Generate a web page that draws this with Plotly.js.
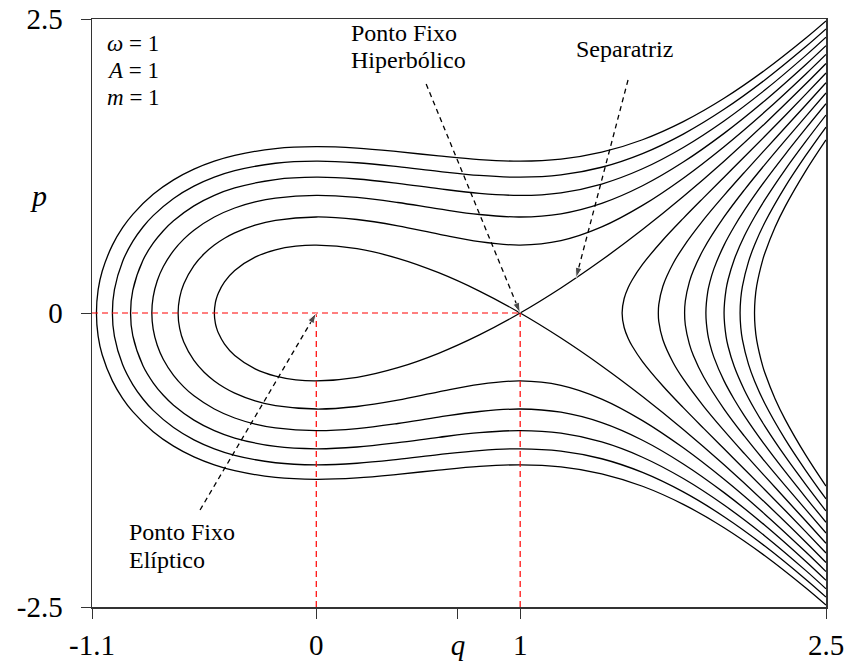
<!DOCTYPE html>
<html>
<head>
<meta charset="utf-8">
<script src="https://cdn.plot.ly/plotly-3.0.1.min.js"></script>
<style>html,body{margin:0;padding:0;background:#fff;}</style>
</head>
<body>
<div id="chart" style="width:848px;height:663px;"></div>
<script>
// ---- Data: upper halves (p >= 0) of each level curve ----
// Curves that wrap around the left (energies above the separatrix)
const qE1   = [-1.0782,-1.07,-1.05,-1.0,-0.95,-0.9,-0.8,-0.7,-0.6,-0.5,-0.4,-0.2,0,0.2,0.4,0.6,0.8,1.0,1.2,1.4,1.6,1.8,2.0,2.2,2.4,2.5];
const pE1   = [0,0.196,0.3546,0.5774,0.7252,0.8390,1.0093,1.1320,1.2231,1.2910,1.3406,1.3981,1.4142,1.4019,1.3721,1.3357,1.3044,1.2910,1.3084,1.3672,1.4733,1.6273,1.8257,2.0637,2.3358,2.4833];
const qE56  = [-1.0,-0.99,-0.95,-0.9,-0.85,-0.8,-0.7,-0.6,-0.5,-0.4,-0.2,0,0.2,0.4,0.6,0.8,1.0,1.2,1.4,1.6,1.8,2.0,2.2,2.4,2.5];
const pE56  = [0,0.1992,0.4389,0.6088,0.7313,0.8279,0.9737,1.0783,1.1547,1.2100,1.2733,1.2910,1.2775,1.2447,1.2044,1.1696,1.1547,1.1742,1.2394,1.3555,1.5214,1.7321,1.9813,2.2633,2.4152];
const qE23  = [-0.9109,-0.9,-0.85,-0.8,-0.75,-0.7,-0.6,-0.5,-0.4,-0.2,0,0.2,0.4,0.6,0.8,1.0,1.2,1.4,1.6,1.8,2.0,2.2,2.4,2.5];
const pE23  = [0,0.1932,0.4488,0.5933,0.6997,0.7840,0.9107,1.0,1.0633,1.1349,1.1547,1.1396,1.1027,1.0570,1.0172,1.0,1.0224,1.0967,1.2264,1.4076,1.6330,1.8953,2.1885,2.3452];
const qE12  = [-0.8065,-0.8,-0.78,-0.75,-0.7,-0.65,-0.6,-0.5,-0.4,-0.3,-0.2,0,0.2,0.4,0.6,0.8,1.0,1.2,1.4,1.6,1.8,2.0,2.2,2.4,2.5];
const pE12  = [0,0.1366,0.2743,0.3953,0.5304,0.6280,0.7043,0.8165,0.8929,0.9445,0.9771,1.0,0.9825,0.9395,0.8854,0.8375,0.8165,0.8438,0.9324,1.0820,1.2837,1.5275,1.8052,2.1109,2.2730];
const qE13  = [-0.6777,-0.67,-0.65,-0.6,-0.55,-0.5,-0.45,-0.4,-0.3,-0.2,0,0.2,0.4,0.6,0.8,1.0,1.2,1.4,1.6,1.8,2.0,2.2,2.4,2.5];
const pE13  = [0,0.1314,0.2472,0.4033,0.5032,0.5774,0.6352,0.6812,0.7474,0.7883,0.8165,0.7950,0.7412,0.6713,0.6066,0.5774,0.6154,0.7321,0.9151,1.1466,1.4142,1.7104,2.0304,2.1985];
// Separatrix: one branch (the other is its mirror image)
const qSep  = [-0.5,-0.495,-0.49,-0.48,-0.45,-0.4,-0.3,-0.2,-0.1,0,0.2,0.4,0.6,0.8,1.0,1.2,1.4,1.6,1.8,2.0,2.2,2.4,2.5];
const pSep  = [0,-0.0863,-0.1217,-0.1709,-0.2647,-0.3615,-0.4747,-0.5367,-0.5680,-0.5774,-0.5465,-0.4648,-0.3425,-0.1862,0,0.2129,0.4502,0.7099,0.9906,1.2910,1.6100,1.9466,2.1213];
// Right-hand open branches (energies below the separatrix)
const qR0   = [1.5,1.51,1.53,1.55,1.6,1.7,1.8,1.9,2.0,2.1,2.2,2.3,2.4,2.5];
const pR0   = [0,0.1233,0.2164,0.2830,0.4131,0.6208,0.8050,0.9812,1.1547,1.3282,1.5029,1.6797,1.8590,2.0412];
const qR1   = [1.6776,1.68,1.7,1.75,1.8,1.9,2.0,2.1,2.2,2.3,2.4,2.5];
const pR1   = [0,0.0732,0.2280,0.4208,0.5610,0.7933,1.0,1.1961,1.3876,1.5773,1.7671,1.9579];
const qR2   = [1.8065,1.81,1.83,1.85,1.9,2.0,2.1,2.2,2.3,2.4,2.5];
const pR2   = [0,0.1020,0.2647,0.3632,0.5441,0.8165,1.0475,1.2617,1.4679,1.6701,1.8708];
const qR3   = [1.9109,1.92,1.93,1.95,2.0,2.05,2.1,2.2,2.3,2.4,2.5];
const pR3   = [0,0.1794,0.2604,0.3752,0.5774,0.7355,0.8741,1.1219,1.3496,1.5672,1.7795];
const qR4   = [2.0,2.01,2.02,2.05,2.1,2.15,2.2,2.3,2.4,2.5];
const pR4   = [0,0.2007,0.2850,0.4556,0.6563,0.8184,0.9619,1.2198,1.4569,1.6833];
const qR5   = [2.0786,2.082,2.09,2.12,2.15,2.2,2.3,2.4,2.5];
const pR5   = [0,0.1233,0.2268,0.4371,0.5800,0.7694,1.0746,1.3377,1.5811];
const qR6   = [2.1494,2.152,2.16,2.19,2.2,2.25,2.3,2.4,2.5];
const pR6   = [0,0.1140,0.2299,0.4541,0.5086,0.7289,0.9063,1.2066,1.4720];

// Fixed points and arrows
const fixedQ = [0, 1];
const fixedP = [0, 0];
const arrowHyp = {q:[0.539, 1], p:[1.947, 0]};
const arrowSep = {q:[1.529, 1.274], p:[1.981, 0.298]};
const arrowEll = {q:[-0.570, 0], p:[-1.675, 0]};

// Tick labels
const xTickVals = [-1.1, 0, 0.695, 1, 2.5];
const xTickText = ['-1.1', '0', '<i>q</i>', '1', '2.5'];
const yTickVals = [-2.5, 0, 2.5];
const yTickText = ['-2.5', '0', '2.5'];

// Text labels
const paramLines = ['<i>ω</i> = 1', '<i>A</i> = 1', '<i>m</i> = 1'];
const hypLines = ['Ponto Fixo', 'Hiperbólico'];
const ellLines = ['Ponto Fixo', 'Elíptico'];
const sepLabel = 'Separatriz';

const FONT = '"Liberation Serif", "DejaVu Serif", serif';

function mirrored(q, p) {
  const rq = q.slice().reverse();
  const rp = p.slice().reverse().map(v => -v);
  return {x: rq.concat(q.slice(1)), y: rp.concat(p.slice(1))};
}

const curves = [[qE1,pE1],[qE56,pE56],[qE23,pE23],[qE12,pE12],[qE13,pE13],[qSep,pSep],
                [qR0,pR0],[qR1,pR1],[qR2,pR2],[qR3,pR3],[qR4,pR4],[qR5,pR5],[qR6,pR6]];

const traces = curves.map(c => {
  const m = mirrored(c[0], c[1]);
  return {x: m.x, y: m.y, type: 'scatter', mode: 'lines',
          line: {color: '#000', width: 1.3, shape: 'spline', smoothing: 1},
          hoverinfo: 'skip', showlegend: false};
});

// Red dashed guide lines
traces.push({x: [-1.1, fixedQ[1]], y: [fixedP[0], fixedP[1]], type: 'scatter', mode: 'lines',
  line: {color: '#ff0000', width: 1.2, dash: '6px,4px'}, showlegend: false, hoverinfo: 'skip'});
fixedQ.forEach((q, i) => {
  traces.push({x: [q, q], y: [-2.5, fixedP[i]], type: 'scatter', mode: 'lines',
    line: {color: '#ff0000', width: 1.2, dash: '6px,4px'}, showlegend: false, hoverinfo: 'skip'});
});

// Dashed arrows
[arrowHyp, arrowSep, arrowEll].forEach(a => {
  traces.push({x: a.q, y: a.p, type: 'scatter', mode: 'lines+markers',
    line: {color: '#000', width: 1.3, dash: '5px,4px'},
    marker: {symbol: ['circle', 'arrow'], size: [0, 11], angleref: 'previous', color: '#000'},
    showlegend: false, hoverinfo: 'skip', cliponaxis: false});
});

// pixel-row -> paper-y helper for label placement (plot area spans rows 19..607)
const py = r => (607 - r) / 588;
const px = c => (c - 92) / 734;

const annFont = {family: FONT, size: 24, color: '#000'};
const anns = [
  {xref: 'paper', yref: 'paper', x: px(38), y: py(195), text: '<i>p</i>', showarrow: false,
   font: {family: FONT, size: 30}, xanchor: 'center', yanchor: 'middle'}
];
paramLines.forEach((t, i) => anns.push({xref: 'paper', yref: 'paper', x: px(105), y: py(43 + 27.5 * i),
  xanchor: 'left', yanchor: 'middle', showarrow: false, font: {family: FONT, size: 23, color: '#000'}, text: t}));
hypLines.forEach((t, i) => anns.push({xref: 'paper', yref: 'paper', x: px(349), y: py(33 + 27 * i),
  xanchor: 'left', yanchor: 'middle', showarrow: false, font: annFont, text: t}));
ellLines.forEach((t, i) => anns.push({xref: 'paper', yref: 'paper', x: px(127), y: py(532 + 28 * i),
  xanchor: 'left', yanchor: 'middle', showarrow: false, font: annFont, text: t}));
anns.push({xref: 'paper', yref: 'paper', x: px(574), y: py(49), xanchor: 'left', yanchor: 'middle',
  showarrow: false, font: annFont, text: sepLabel});

const layout = {
  width: 848, height: 663,
  margin: {l: 92, r: 22, t: 19, b: 56},
  paper_bgcolor: '#fff', plot_bgcolor: '#fff',
  font: {family: FONT, size: 29, color: '#000'},
  xaxis: {range: [-1.1, 2.5], tickvals: xTickVals, ticktext: xTickText,
    showgrid: false, zeroline: false, showline: true, mirror: true,
    linecolor: '#333', linewidth: 1.5, ticks: 'outside', ticklen: 10, tickcolor: '#333',
    tickfont: {family: FONT, size: 29}, ticklabelstandoff: 2},
  yaxis: {range: [-2.5, 2.5], tickvals: yTickVals, ticktext: yTickText,
    showgrid: false, zeroline: false, showline: true, mirror: true,
    linecolor: '#333', linewidth: 1.5, ticks: 'outside', ticklen: 10, tickcolor: '#333',
    tickfont: {family: FONT, size: 29}, ticklabelstandoff: 12},
  annotations: anns
};

Plotly.newPlot('chart', traces, layout, {staticPlot: true, displayModeBar: false});
</script>
</body>
</html>
